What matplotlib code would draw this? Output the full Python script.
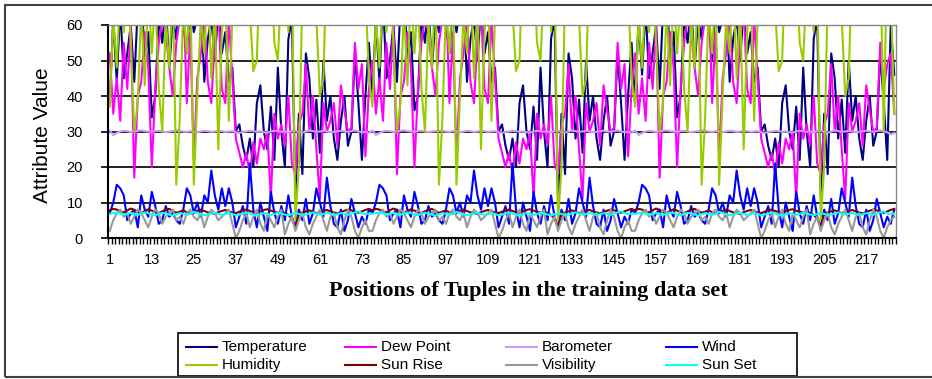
import matplotlib
matplotlib.use("Agg")
import matplotlib.pyplot as plt
import numpy as np
from matplotlib.patches import Rectangle
from matplotlib.lines import Line2D

plt.rcParams['font.family'] = ['Liberation Sans', 'DejaVu Sans']

# values, tuple positions 1..225 (the data repeats in 3 blocks)
temperature = [
    38, 62, 44, 65, 45, 52, 60, 44, 65, 70, 50, 58, 34, 40, 62, 55, 66, 48, 62, 56,
    70, 60, 52, 66, 58, 62, 68, 44, 56, 62, 50, 65, 52, 58, 44, 48, 30, 32, 26, 22,
    28, 20, 38, 43, 30, 25, 37, 22, 48, 30, 20, 56, 62, 12, 35, 18, 52, 45, 28, 39,
    24, 50, 33, 40, 28, 22, 33, 40, 26, 30, 52, 38, 22, 40, 55,
    40, 62, 44, 68, 45, 50, 60, 44, 65, 70, 50, 58, 36, 40, 62, 55, 66, 48, 62, 58,
    70, 60, 52, 66, 58, 64, 68, 44, 56, 62, 50, 65, 52, 58, 44, 48, 30, 32, 26, 22,
    28, 20, 38, 43, 30, 25, 37, 22, 48, 30, 20, 56, 62, 10, 35, 18, 52, 45, 28, 39,
    24, 50, 33, 40, 28, 22, 33, 40, 26, 30, 52, 38, 22, 40, 55,
    38, 62, 46, 65, 45, 52, 60, 42, 65, 70, 50, 58, 34, 40, 62, 55, 66, 48, 62, 56,
    70, 60, 50, 66, 58, 62, 68, 44, 56, 62, 50, 65, 52, 58, 44, 48, 30, 32, 26, 22,
    28, 20, 38, 43, 30, 25, 37, 22, 48, 30, 20, 56, 62, 12, 35, 18, 52, 45, 28, 39,
    24, 50, 33, 40, 28, 22, 33, 40, 26, 30, 52, 38, 22, 60, 46,
]
dew_point = [
    52, 35, 45, 33, 55, 42, 60, 17, 40, 44, 58, 48, 20, 42, 55, 62, 58, 48, 40, 55,
    62, 70, 38, 58, 22, 45, 52, 62, 44, 38, 56, 65, 42, 38, 62, 45, 28, 24, 20, 24,
    18, 27, 21, 28, 25, 30, 11, 35, 28, 32, 26, 40, 21, 18, 32, 35, 49, 30, 40, 25,
    11, 38, 30, 33, 38, 26, 43, 36, 30, 31, 55, 42, 49, 23, 42,
    50, 35, 45, 33, 55, 42, 60, 18, 40, 44, 58, 48, 20, 42, 55, 62, 58, 48, 40, 55,
    62, 70, 38, 58, 22, 45, 52, 62, 44, 38, 56, 65, 42, 38, 62, 45, 28, 24, 20, 24,
    18, 27, 21, 28, 25, 30, 11, 35, 28, 32, 26, 40, 21, 18, 32, 35, 49, 30, 40, 25,
    11, 38, 30, 33, 38, 26, 43, 36, 30, 31, 55, 42, 49, 23, 42,
    52, 35, 45, 33, 55, 42, 60, 17, 40, 44, 58, 48, 20, 42, 55, 62, 58, 48, 40, 55,
    62, 70, 38, 58, 22, 45, 52, 62, 44, 38, 56, 65, 42, 38, 62, 45, 28, 24, 20, 24,
    18, 27, 21, 28, 25, 30, 11, 35, 28, 32, 26, 40, 21, 18, 32, 35, 49, 30, 40, 25,
    11, 38, 30, 33, 38, 26, 43, 36, 30, 31, 55, 42, 49, 52, 35,
]
barometer = [
    30.3, 28.9, 29.6, 30.0, 30.2, 30.1, 29.9, 30.0, 30.2, 30.3, 30.1, 30.0, 29.9, 30.1, 30.2,
    30.0, 29.8, 30.0, 30.1, 30.3, 30.2, 30.0, 29.9, 30.1, 30.0, 29.8, 30.0, 30.2, 30.1, 29.9,
    30.0, 30.2, 30.1, 29.9, 30.0, 30.1, 29.8, 29.6, 29.9, 30.0, 30.2, 30.1, 29.9, 30.0, 29.8,
    29.7, 30.0, 30.2, 30.1, 29.9, 30.0, 29.8, 30.1, 30.2, 29.9, 29.7, 30.0, 30.3, 30.1, 29.9,
    30.0, 30.2, 30.0, 29.8, 29.9, 30.1, 30.2, 30.0, 29.9, 30.1, 30.3, 30.0, 29.8, 29.9, 29.6,
    30.3, 29.0, 29.6, 30.0, 30.2, 30.1, 29.9, 30.0, 30.2, 30.3, 30.1, 30.0, 29.9, 30.1, 30.2,
    30.0, 29.8, 30.0, 30.1, 30.3, 30.2, 30.0, 29.9, 30.1, 30.0, 29.8, 30.0, 30.2, 30.1, 29.9,
    30.0, 30.2, 30.1, 29.9, 30.0, 30.1, 29.8, 29.6, 29.9, 30.0, 30.2, 30.1, 29.9, 30.0, 29.8,
    29.7, 30.0, 30.2, 30.1, 29.9, 30.0, 29.8, 30.1, 30.2, 29.9, 29.7, 30.0, 30.3, 30.1, 29.9,
    30.0, 30.2, 30.0, 29.8, 29.9, 30.1, 30.2, 30.0, 29.9, 30.1, 30.3, 30.0, 29.8, 29.9, 29.6,
    30.3, 29.0, 29.6, 30.0, 30.2, 30.1, 29.9, 30.0, 30.2, 30.3, 30.1, 30.0, 29.9, 30.1, 30.2,
    30.0, 29.8, 30.0, 30.1, 30.3, 30.2, 30.0, 29.9, 30.1, 30.0, 29.8, 30.0, 30.2, 30.1, 29.9,
    30.0, 30.2, 30.1, 29.9, 30.0, 30.1, 29.8, 29.6, 29.9, 30.0, 30.2, 30.1, 29.9, 30.0, 29.8,
    29.7, 30.0, 30.2, 30.1, 29.9, 30.0, 29.8, 30.1, 30.2, 29.9, 29.7, 30.0, 30.3, 30.1, 29.9,
    30.0, 30.2, 30.0, 29.8, 29.9, 30.1, 30.2, 30.0, 29.9, 30.1, 30.3, 30.0, 29.8, 29.2, 29.6,
]
wind = [
    7, 10, 15, 14, 12, 5, 7, 8, 3, 12, 8, 6, 13, 9, 4, 5, 9, 6, 7, 5,
    4, 8, 14, 12, 7, 10, 6, 12, 10, 19, 12, 8, 14, 9, 14, 10, 3, 6, 9, 4,
    21, 8, 3, 10, 6, 2, 13, 7, 4, 9, 5, 12, 6, 3, 8, 5, 11, 4, 7, 14,
    10, 6, 17, 9, 4, 3, 8, 2, 5, 11, 7, 3, 6, 4, 8,
    7, 10, 15, 14, 12, 5, 7, 8, 3, 12, 8, 6, 13, 9, 4, 5, 9, 6, 7, 5,
    4, 8, 14, 12, 7, 10, 6, 12, 10, 19, 12, 8, 14, 9, 14, 10, 3, 6, 9, 4,
    21, 8, 3, 10, 6, 2, 13, 7, 4, 9, 5, 12, 6, 3, 8, 5, 11, 4, 7, 14,
    10, 6, 17, 9, 4, 3, 8, 2, 5, 11, 7, 3, 6, 4, 8,
    7, 10, 15, 14, 12, 5, 7, 8, 3, 12, 8, 6, 13, 9, 4, 5, 9, 6, 7, 5,
    4, 8, 14, 12, 7, 10, 6, 12, 10, 19, 12, 8, 14, 9, 14, 10, 3, 6, 9, 4,
    21, 8, 3, 10, 6, 2, 13, 7, 4, 9, 5, 12, 6, 3, 8, 5, 11, 4, 7, 14,
    10, 6, 17, 9, 4, 3, 8, 2, 5, 11, 7, 3, 6, 4, 8,
]
humidity = [
    37, 62, 48, 70, 58, 75, 55, 30, 38, 65, 43, 70, 52, 68, 42, 30, 62, 48, 72, 15,
    34, 65, 52, 70, 15, 40, 62, 52, 75, 45, 66, 25, 58, 70, 33, 62, 80, 85, 78, 88,
    64, 47, 50, 82, 90, 85, 80, 55, 50, 72, 85, 58, 75, 5, 20, 70, 85, 90, 80, 62,
    40, 45, 80, 88, 92, 85, 90, 78, 85, 90, 80, 88, 82, 70, 45,
    37, 62, 48, 70, 58, 75, 55, 30, 38, 65, 43, 70, 52, 68, 42, 30, 62, 48, 72, 15,
    34, 65, 52, 70, 15, 40, 62, 52, 75, 45, 66, 25, 58, 70, 33, 62, 80, 85, 78, 88,
    64, 47, 50, 82, 90, 85, 80, 55, 50, 72, 85, 58, 75, 5, 20, 70, 85, 90, 80, 62,
    40, 45, 80, 88, 92, 85, 90, 78, 85, 90, 80, 88, 82, 70, 45,
    37, 62, 48, 70, 58, 75, 55, 30, 38, 65, 43, 70, 52, 68, 42, 30, 62, 48, 72, 15,
    34, 65, 52, 70, 15, 40, 62, 52, 75, 45, 66, 25, 58, 70, 33, 62, 80, 85, 78, 88,
    64, 47, 50, 82, 90, 85, 80, 55, 50, 72, 85, 58, 75, 5, 20, 70, 85, 90, 80, 62,
    40, 45, 80, 88, 92, 85, 90, 78, 85, 90, 80, 30, 82, 70, 35,
]
sun_rise = [
    7.8, 8.2, 8.0, 7.5, 7.2, 7.8, 8.3, 7.9, 7.4, 7.0, 7.6, 8.1, 7.7, 7.3, 7.0,
    7.5, 7.9, 8.2, 7.6, 7.1, 7.4, 7.8, 7.2, 6.9, 7.3, 7.7, 8.0, 7.6, 7.2, 7.0,
    6.8, 7.3, 7.6, 7.9, 7.5, 7.2, 7.0, 7.4, 7.8, 8.0, 7.6, 7.3, 7.1, 7.5, 7.9,
    8.1, 7.7, 7.4, 7.1, 7.3, 7.0, 6.5, 5.5, 3.0, 6.8, 7.2, 7.5, 7.8, 7.4, 7.0,
    7.3, 7.6, 7.9, 7.5, 7.2, 6.9, 7.3, 7.7, 8.0, 7.8, 7.4, 7.1, 7.5, 7.9, 8.2,
    7.8, 8.2, 8.0, 7.5, 7.2, 7.8, 8.3, 7.9, 7.4, 7.0, 7.6, 8.1, 7.7, 7.3, 7.0,
    7.5, 7.9, 8.2, 7.6, 7.1, 7.4, 7.8, 7.2, 6.9, 7.3, 7.7, 8.0, 7.6, 7.2, 7.0,
    6.8, 7.3, 7.6, 7.9, 7.5, 7.2, 7.0, 7.4, 7.8, 8.0, 7.6, 7.3, 7.1, 7.5, 7.9,
    8.1, 7.7, 7.4, 7.1, 7.3, 7.0, 6.5, 5.5, 3.0, 6.8, 7.2, 7.5, 7.8, 7.4, 7.0,
    7.3, 7.6, 7.9, 7.5, 7.2, 6.9, 7.3, 7.7, 8.0, 7.8, 7.4, 7.1, 7.5, 7.9, 8.2,
    7.8, 8.2, 8.0, 7.5, 7.2, 7.8, 8.3, 7.9, 7.4, 7.0, 7.6, 8.1, 7.7, 7.3, 7.0,
    7.5, 7.9, 8.2, 7.6, 7.1, 7.4, 7.8, 7.2, 6.9, 7.3, 7.7, 8.0, 7.6, 7.2, 7.0,
    6.8, 7.3, 7.6, 7.9, 7.5, 7.2, 7.0, 7.4, 7.8, 8.0, 7.6, 7.3, 7.1, 7.5, 7.9,
    8.1, 7.7, 7.4, 7.1, 7.3, 7.0, 6.5, 5.5, 3.0, 6.8, 7.2, 7.5, 7.8, 7.4, 7.0,
    7.3, 7.6, 7.9, 7.5, 7.2, 6.9, 7.3, 7.7, 8.0, 7.8, 7.4, 7.1, 7.5, 7.9, 8.2,
]
visibility = [
    2, 5, 7, 8, 6, 7, 4, 6, 8, 7, 5, 3, 6, 8, 7, 4, 6, 7, 8, 5,
    6, 4, 7, 8, 6, 5, 7, 3, 6, 8, 7, 5, 6, 7, 8, 4, 0, 2, 5, 7,
    3, 6, 8, 4, 2, 7, 5, 3, 6, 8, 1, 4, 6, 2, 5, 7, 3, 1, 4, 6,
    8, 5, 2, 6, 7, 3, 1, 5, 8, 6, 2, 0, 3, 5, 2,
    2, 5, 7, 8, 6, 7, 4, 6, 8, 7, 5, 3, 6, 8, 7, 4, 6, 7, 8, 5,
    6, 4, 7, 8, 6, 5, 7, 3, 6, 8, 7, 5, 6, 7, 8, 4, 0, 2, 5, 7,
    3, 6, 8, 4, 2, 7, 5, 3, 6, 8, 1, 4, 6, 2, 5, 7, 3, 1, 4, 6,
    8, 5, 2, 6, 7, 3, 1, 5, 8, 6, 2, 0, 3, 5, 2,
    2, 5, 7, 8, 6, 7, 4, 6, 8, 7, 5, 3, 6, 8, 7, 4, 6, 7, 8, 5,
    6, 4, 7, 8, 6, 5, 7, 3, 6, 8, 7, 5, 6, 7, 8, 4, 0, 2, 5, 7,
    3, 6, 8, 4, 2, 7, 5, 3, 6, 8, 1, 4, 6, 2, 5, 7, 3, 1, 4, 6,
    8, 5, 2, 6, 7, 3, 1, 5, 8, 6, 2, 0, 3, 5, 6,
]
sun_set = [
    6.8, 7.0, 7.2, 6.9, 6.6, 6.8, 7.1, 6.7, 6.5, 6.9, 7.2, 7.0, 6.6, 6.4, 6.8,
    7.1, 6.9, 6.6, 6.3, 6.7, 7.0, 6.8, 6.5, 6.9, 7.4, 7.0, 6.7, 6.4, 6.6, 6.9,
    7.1, 6.8, 6.5, 6.7, 7.0, 6.8, 6.4, 6.6, 6.9, 7.2, 6.9, 6.5, 6.3, 6.7, 7.0,
    6.8, 6.5, 6.8, 7.1, 6.9, 6.6, 6.4, 6.7, 7.0, 6.8, 6.5, 6.6, 6.9, 7.2, 6.9,
    6.6, 6.8, 7.1, 6.8, 6.5, 6.7, 7.0, 6.8, 6.5, 6.9, 7.2, 7.5, 7.0, 6.7, 6.9,
    6.8, 7.0, 7.2, 6.9, 6.6, 6.8, 7.1, 6.7, 6.5, 6.9, 7.2, 7.0, 6.6, 6.4, 6.8,
    7.1, 6.9, 6.6, 6.3, 6.7, 7.0, 6.8, 6.5, 6.9, 7.4, 7.0, 6.7, 6.4, 6.6, 6.9,
    7.1, 6.8, 6.5, 6.7, 7.0, 6.8, 6.4, 6.6, 6.9, 7.2, 6.9, 6.5, 6.3, 6.7, 7.0,
    6.8, 6.5, 6.8, 7.1, 6.9, 6.6, 6.4, 6.7, 7.0, 6.8, 6.5, 6.6, 6.9, 7.2, 6.9,
    6.6, 6.8, 7.1, 6.8, 6.5, 6.7, 7.0, 6.8, 6.5, 6.9, 7.2, 7.5, 7.0, 6.7, 6.9,
    6.8, 7.0, 7.2, 6.9, 6.6, 6.8, 7.1, 6.7, 6.5, 6.9, 7.2, 7.0, 6.6, 6.4, 6.8,
    7.1, 6.9, 6.6, 6.3, 6.7, 7.0, 6.8, 6.5, 6.9, 7.4, 7.0, 6.7, 6.4, 6.6, 6.9,
    7.1, 6.8, 6.5, 6.7, 7.0, 6.8, 6.4, 6.6, 6.9, 7.2, 6.9, 6.5, 6.3, 6.7, 7.0,
    6.8, 6.5, 6.8, 7.1, 6.9, 6.6, 6.4, 6.7, 7.0, 6.8, 6.5, 6.6, 6.9, 7.2, 6.9,
    6.6, 6.8, 7.1, 6.8, 6.5, 6.7, 7.0, 6.8, 6.5, 6.9, 7.2, 7.5, 7.0, 6.7, 6.9,
]

series_names = ['Temperature', 'Dew Point', 'Barometer', 'Wind',
                'Humidity', 'Sun Rise', 'Visibility', 'Sun Set']
series_data = [temperature, dew_point, barometer, wind,
               humidity, sun_rise, visibility, sun_set]
series_colors = ['#000080', '#FF00FF', '#CC99FF', '#0000FF',
                 '#99CC00', '#800000', '#999999', '#00FFFF']

W, H = 932, 379
fig = plt.figure(figsize=(W / 100, H / 100), dpi=100)
ax = fig.add_axes([108 / W, 1 - 238 / H, (896 - 108) / W, (238 - 25) / H])

positions = np.arange(1, len(temperature) + 1)
for name, vals, col in zip(series_names, series_data, series_colors):
    ax.plot(positions, vals, color=col, lw=1.5, label=name)

ax.set_xlim(0.5, len(positions) + 0.5)
ax.set_ylim(0, 60)

# horizontal gridlines like excel
ax.set_yticks(range(0, 61, 10))
ax.yaxis.grid(True, color='#222222', lw=1.4)
ax.set_axisbelow(True)
ax.tick_params(axis='y', length=5, width=1.2, labelsize=10.5, pad=13)

ax.set_xticks(range(1, len(positions) + 1, 12))
ax.set_xticklabels([str(i) for i in range(1, len(positions) + 1, 12)])
ax.set_xticks(np.arange(0.5, len(positions) + 1), minor=True)
ax.tick_params(axis='x', which='major', length=0, labelsize=10.5, pad=11)
ax.tick_params(axis='x', which='minor', length=4, width=1)

for s in ['left', 'bottom']:
    ax.spines[s].set_color('black')
    ax.spines[s].set_linewidth(1.5)
for s in ['top', 'right']:
    ax.spines[s].set_color('#888888')
    ax.spines[s].set_linewidth(1)

fig.text(42 / W, 1 - 135 / H, 'Attribute Value', rotation=90,
         fontsize=15, ha='center', va='center')
fig.text(528 / W, 1 - 291 / H, 'Positions of Tuples in the training data set',
         fontsize=16, fontweight='bold', family='Liberation Serif',
         ha='center', va='center')

# legend drawn by hand: excel uses equal width columns
fig.patches.append(Rectangle((178 / W, 1 - 376 / H), (797 - 178) / W, (376 - 333) / H,
                             transform=fig.transFigure, fill=False,
                             edgecolor='black', lw=1.2))
col_x = [186, 345, 506, 666]
row_y = [347, 365]
for k, (name, col) in enumerate(zip(series_names, series_colors)):
    cx = col_x[k % 4]
    cy = 1 - row_y[k // 4] / H
    fig.add_artist(Line2D([cx / W, (cx + 31) / W], [cy, cy], color=col, lw=1.5))
    fig.text((cx + 36) / W, cy, name, fontsize=11, ha='left', va='center')

# outer chart border
fig.patches.append(Rectangle((5 / W, 1 - 377 / H), 940 / W, 372 / H,
                             transform=fig.transFigure, fill=False,
                             edgecolor='#404040', lw=1.5))

plt.savefig('out.png', dpi=100)
